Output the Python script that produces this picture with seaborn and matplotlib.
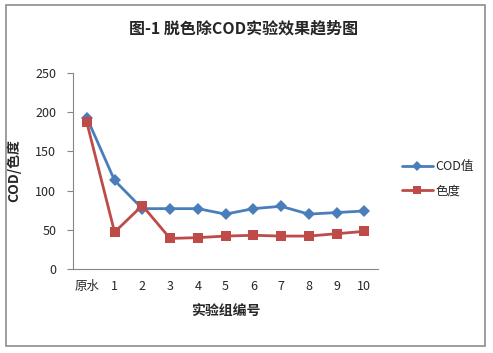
"""脱色除COD实验效果趋势图."""
import matplotlib.pyplot as plt
import pandas as pd
import seaborn as sns
from matplotlib.patches import Rectangle

GROUPS = ["原水", "1", "2", "3", "4", "5", "6", "7", "8", "9", "10"]
COD = [193, 113, 77, 77, 77, 70, 77, 80, 70, 72, 74]
COLOR = [187, 47, 81, 39, 40, 42, 43, 42, 42, 45, 48]
SERIES = ["COD值", "色度"]
YTICKS = [0, 50, 100, 150, 200, 250]

sns.set_style("white")
plt.rcParams["font.family"] = ["Noto Sans CJK SC", "DejaVu Sans"]

df = pd.DataFrame({
    "group": GROUPS * 2,
    "value": COD + COLOR,
    "series": [SERIES[0]] * len(GROUPS) + [SERIES[1]] * len(GROUPS),
})

fig = plt.figure(figsize=(4.93, 3.53), dpi=100)
ax = fig.add_axes([0.148, 0.238, 0.619, 0.555])

sns.lineplot(
    data=df, x="group", y="value", hue="series", style="series",
    palette=["#4A7EBB", "#BE4B48"], markers=["D", "s"], dashes=False,
    markersize=6.5, linewidth=2, markeredgewidth=0, ax=ax,
)

ax.set_xlim(-0.5, len(GROUPS) - 0.5)
ax.set_ylim(0, 250)
ax.set_yticks(YTICKS)
ax.tick_params(axis="y", length=4, width=0.8, color="#868686",
               direction="out", left=True, labelsize=9, pad=8)
ax.tick_params(axis="x", length=0, labelsize=9, pad=8)
for side in ["top", "right"]:
    ax.spines[side].set_visible(False)
for side in ["left", "bottom"]:
    ax.spines[side].set_color("#868686")
    ax.spines[side].set_linewidth(0.8)

ax.set_xlabel("实验组编号", fontsize=10, fontweight="bold", labelpad=8)
ax.set_ylabel("COD/色度", fontsize=10, fontweight="bold", labelpad=10)

fig.text(0.495, 0.92, "图-1 脱色除COD实验效果趋势图",
         ha="center", va="center", fontsize=11.5, fontweight="bold")

ax.legend(loc="center left", bbox_to_anchor=(1.04, 0.46), frameon=False,
          fontsize=9, handlelength=2.5, handletextpad=0.2, labelspacing=0.9,
          markerscale=0.85)

fig.patches.append(Rectangle((6 / 493, 1 - 346 / 353), 479 / 493, 341 / 353,
                             transform=fig.transFigure, fill=False,
                             edgecolor="#8c8c8c", linewidth=1.2))

fig.savefig("out.png", dpi=100)
